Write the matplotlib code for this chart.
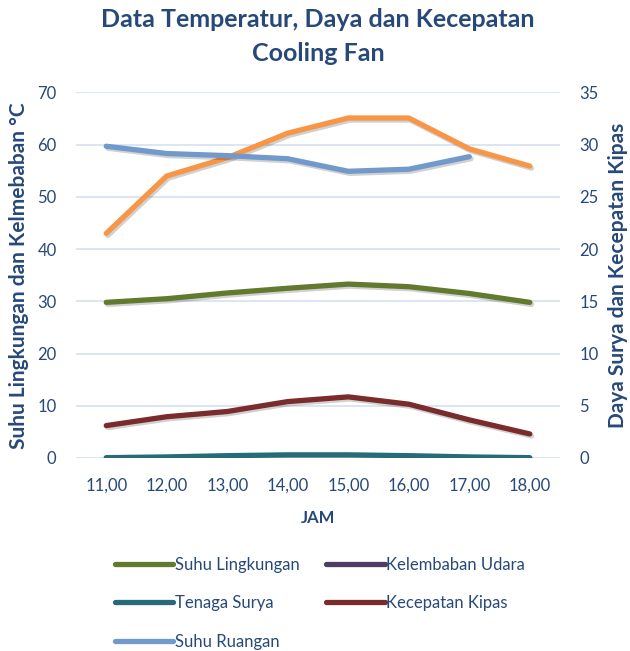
import matplotlib.pyplot as plt
import matplotlib.patheffects as pe
from matplotlib.lines import Line2D
import numpy as np

plt.rcParams['font.family'] = ['Lato', 'DejaVu Sans']

jam = ["11,00", "12,00", "13,00", "14,00", "15,00", "16,00", "17,00", "18,00"]

# left axis
suhu_lingkungan = [29.8, 30.5, 31.6, 32.5, 33.3, 32.8, 31.5, 29.8]
kelembaban_udara = [43.0, 54.0, 57.5, 62.2, 65.1, 65.1, 59.2, 55.9]
suhu_ruangan = [59.7, 58.3, 57.9, 57.3, 54.9, 55.3, 57.7, np.nan]

# right axis
tenaga_surya = [0.03, 0.1, 0.22, 0.3, 0.3, 0.22, 0.1, 0.03]
kecepatan_kipas = [3.1, 3.95, 4.45, 5.4, 5.85, 5.15, 3.65, 2.3]

txt = '#27497A'
grid_c = '#D6E2F1'
c_green = '#627A2E'
c_orange = '#F79646'
c_blue = '#7199CC'
c_teal = '#266B78'
c_red = '#7A2B2B'
c_purple = '#4F3C65'

shadow = [pe.SimpleLineShadow(offset=(1.2, -1.5), alpha=0.18), pe.Normal()]
lw = 3.8

fig = plt.figure(figsize=(6.3, 6.51), dpi=100)
ax = fig.add_axes([0.1206, 0.2965, 0.7684, 0.5615])
ax2 = ax.twinx()

x = np.arange(len(jam))

ax.plot(x, suhu_lingkungan, color=c_green, lw=lw, solid_capstyle='round', path_effects=shadow)
ax.plot(x, kelembaban_udara, color=c_orange, lw=lw, solid_capstyle='round', path_effects=shadow)
ax.plot(x, suhu_ruangan, color=c_blue, lw=lw, solid_capstyle='round', path_effects=shadow)
ax2.plot(x, tenaga_surya, color=c_teal, lw=lw, solid_capstyle='round', path_effects=shadow)
ax2.plot(x, kecepatan_kipas, color=c_red, lw=lw, solid_capstyle='round', path_effects=shadow)

ax.set_xlim(-0.5, 7.5)
ax.set_ylim(0, 70)
ax2.set_ylim(0, 35)
ax.set_yticks(np.arange(0, 71, 10))
ax2.set_yticks(np.arange(0, 36, 5))
ax.set_xticks(x)
ax.set_xticklabels(jam)

ax.grid(axis='y', color=grid_c, lw=1.2)
ax.set_axisbelow(True)
for a in (ax, ax2):
    for s in a.spines.values():
        s.set_visible(False)
    a.tick_params(length=0, labelsize=12, labelcolor=txt)
ax.tick_params(axis='y', pad=14)
ax2.tick_params(axis='y', pad=14)
ax.tick_params(axis='x', pad=14)

ax.set_xlabel("JAM", fontsize=12, fontweight='bold', color=txt, labelpad=12)
ax.set_ylabel("Suhu Lingkungan dan Kelmebaban °C", fontsize=15, fontweight='bold', color=txt, labelpad=6)
ax2.set_ylabel("Daya Surya dan Kecepatan Kipas", fontsize=15, fontweight='bold', color=txt, labelpad=7)
fig.suptitle("Data Temperatur, Daya dan Kecepatan\nCooling Fan", fontsize=18, fontweight='bold',
             color=txt, x=0.505, y=0.987, linespacing=1.55)

handles = [
    Line2D([], [], color=c_green, lw=lw, solid_capstyle='round'),
    Line2D([], [], color=c_teal, lw=lw, solid_capstyle='round'),
    Line2D([], [], color=c_blue, lw=lw, solid_capstyle='round'),
    Line2D([], [], color=c_purple, lw=lw, solid_capstyle='round'),
    Line2D([], [], color=c_red, lw=lw, solid_capstyle='round'),
]
labels = ["Suhu Lingkungan", "Tenaga Surya", "Suhu Ruangan", "Kelembaban Udara", "Kecepatan Kipas"]
leg = fig.legend(handles, labels, ncol=2, loc='upper left', bbox_to_anchor=(0.172, 0.155),
                 frameon=False, fontsize=12, handlelength=3.5, handletextpad=0.1,
                 columnspacing=1.6, labelspacing=1.35, borderaxespad=0)
for t in leg.get_texts():
    t.set_color(txt)

fig.savefig("out.png", dpi=100)
